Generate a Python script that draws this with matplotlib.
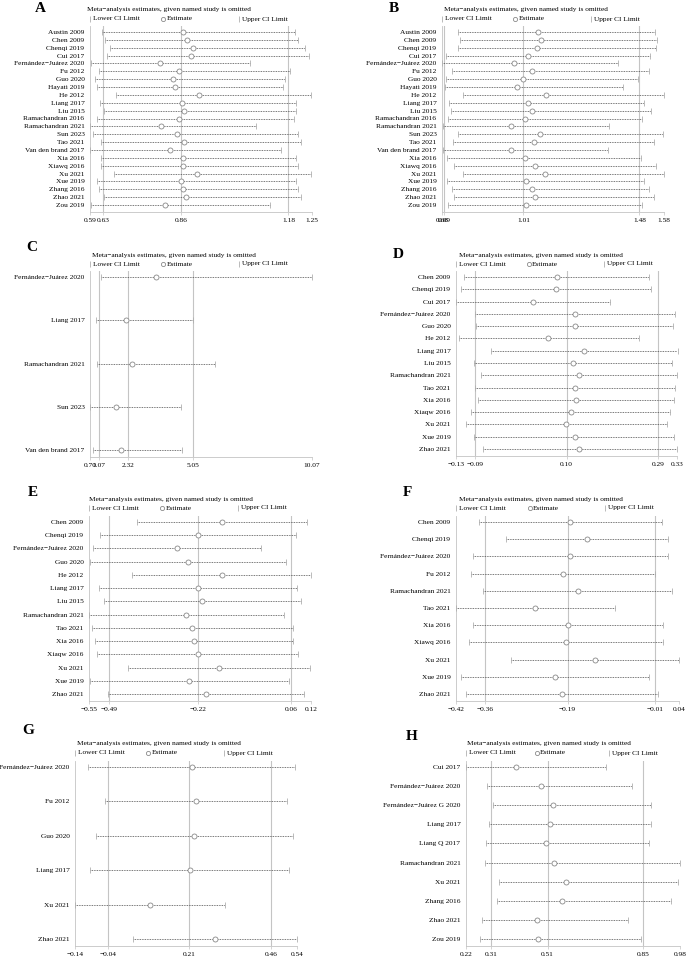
import numpy as np
import matplotlib
matplotlib.use('Agg')
import matplotlib.pyplot as plt

plt.rcParams['font.family'] = ['Liberation Serif', 'DejaVu Serif']

W, H = 689, 958

# ---- panel A ----
a_studies = ['Austin 2009', 'Chen 2009', 'Chenqi 2019', 'Cui 2017', 'Fernández−Juárez 2020',
             'Fu 2012', 'Guo 2020', 'Hayati 2019', 'He 2012', 'Liang 2017', 'Liu 2015',
             'Ramachandran 2016', 'Ramachandran 2021', 'Sun 2023', 'Tao 2021',
             'Van den brand 2017', 'Xia 2016', 'Xiawq 2016', 'Xu 2021', 'Xue 2019',
             'Zhang 2016', 'Zhao 2021', 'Zou 2019']
a_lower = [0.625, 0.636, 0.650, 0.641, 0.594, 0.616, 0.605, 0.610, 0.668, 0.619, 0.631,
           0.612, 0.591, 0.600, 0.622, 0.590, 0.622, 0.624, 0.660, 0.612, 0.618, 0.633, 0.592]
a_est = [0.865, 0.877, 0.895, 0.891, 0.798, 0.855, 0.838, 0.843, 0.914, 0.863, 0.869,
         0.855, 0.802, 0.849, 0.870, 0.828, 0.865, 0.867, 0.908, 0.860, 0.866, 0.874, 0.814]
a_upper = [1.198, 1.207, 1.228, 1.240, 1.067, 1.185, 1.169, 1.164, 1.248, 1.202, 1.202,
           1.195, 1.083, 1.207, 1.216, 1.159, 1.202, 1.207, 1.247, 1.202, 1.209, 1.218, 1.125]
a_ticks = [0.59, 0.63, 0.86, 1.18, 1.25]

# ---- panel B ----
b_studies = a_studies
b_lower = [0.745, 0.753, 0.745, 0.698, 0.681, 0.720, 0.695, 0.692, 0.766, 0.710, 0.716,
           0.704, 0.683, 0.745, 0.723, 0.684, 0.702, 0.729, 0.765, 0.699, 0.719, 0.729, 0.703]
b_est = [1.070, 1.081, 1.067, 1.028, 0.971, 1.044, 1.009, 0.986, 1.100, 1.027, 1.044,
         1.016, 0.959, 1.077, 1.052, 0.959, 1.017, 1.056, 1.097, 1.019, 1.044, 1.058, 1.020]
b_upper = [1.545, 1.553, 1.547, 1.523, 1.395, 1.520, 1.476, 1.414, 1.580, 1.499, 1.527,
           1.492, 1.359, 1.574, 1.538, 1.352, 1.487, 1.546, 1.580, 1.497, 1.520, 1.539, 1.492]
b_ticks = [0.68, 0.69, 1.01, 1.48, 1.58]

# ---- panel C ----
c_studies = ['Fernández−Juárez 2020', 'Liang 2017', 'Ramachandran 2021', 'Sun 2023',
             'Van den brand 2017']
c_lower = [1.15, 0.95, 0.98, 0.70, 0.84]
c_est = [3.47, 2.21, 2.48, 1.80, 2.00]
c_upper = [10.07, 5.03, 5.96, 4.52, 4.59]
c_ticks = [0.70, 1.07, 2.32, 5.05, 10.07]

# ---- panel D ----
d_studies = ['Chen 2009', 'Chenqi 2019', 'Cui 2017', 'Fernández−Juárez 2020', 'Guo 2020',
             'He 2012', 'Liang 2017', 'Liu 2015', 'Ramachandran 2021', 'Tao 2021',
             'Xia 2016', 'Xiaqw 2016', 'Xu 2021', 'Xue 2019', 'Zhao 2021']
d_lower = [-0.113, -0.120, -0.130, -0.090, -0.089, -0.124, -0.057, -0.092, -0.077, -0.090,
           -0.084, -0.098, -0.110, -0.093, -0.074]
d_est = [0.080, 0.078, 0.030, 0.118, 0.117, 0.062, 0.137, 0.114, 0.127, 0.118,
         0.119, 0.109, 0.098, 0.117, 0.127]
d_upper = [0.272, 0.275, 0.191, 0.325, 0.322, 0.251, 0.332, 0.320, 0.329, 0.325,
           0.323, 0.316, 0.309, 0.324, 0.330]
d_ticks = [-0.13, -0.09, 0.10, 0.29, 0.33]

# ---- panel E ----
e_studies = ['Chen 2009', 'Chenqi 2019', 'Fernández−Juárez 2020', 'Guo 2020', 'He 2012',
             'Liang 2017', 'Liu 2015', 'Ramachandran 2021', 'Tao 2021', 'Xia 2016',
             'Xiaqw 2016', 'Xu 2021', 'Xue 2019', 'Zhao 2021']
e_lower = [-0.404, -0.518, -0.537, -0.548, -0.419, -0.520, -0.505, -0.550, -0.540, -0.532,
           -0.525, -0.431, -0.547, -0.494]
e_est = [-0.148, -0.220, -0.283, -0.250, -0.150, -0.220, -0.208, -0.256, -0.238, -0.234,
         -0.220, -0.157, -0.247, -0.196]
e_upper = [0.108, 0.075, -0.031, 0.044, 0.120, 0.078, 0.090, 0.038, 0.065, 0.066,
           0.081, 0.118, 0.054, 0.099]
e_ticks = [-0.55, -0.49, -0.22, 0.06, 0.12]

# ---- panel F ----
f_studies = ['Chen 2009', 'Chenqi 2019', 'Fernández−Juárez 2020', 'Fu 2012',
             'Ramachandran 2021', 'Tao 2021', 'Xia 2016', 'Xiawq 2016', 'Xu 2021',
             'Xue 2019', 'Zhao 2021']
f_lower = [-0.372, -0.317, -0.384, -0.389, -0.365, -0.420, -0.384, -0.393, -0.307, -0.410, -0.399]
f_est = [-0.184, -0.149, -0.184, -0.200, -0.169, -0.257, -0.188, -0.193, -0.133, -0.215, -0.201]
f_upper = [0.004, 0.018, 0.017, -0.010, 0.025, -0.093, 0.008, 0.006, 0.040, -0.022, -0.003]
f_ticks = [-0.42, -0.36, -0.19, -0.01, 0.04]

# ---- panel G ----
g_studies = ['Fernández−Juárez 2020', 'Fu 2012', 'Guo 2020', 'Liang 2017', 'Xu 2021',
             'Zhao 2021']
g_lower = [-0.100, -0.049, -0.075, -0.094, -0.139, 0.038]
g_est = [0.218, 0.230, 0.226, 0.211, 0.089, 0.290]
g_upper = [0.534, 0.510, 0.527, 0.516, 0.319, 0.539]
g_ticks = [-0.14, -0.04, 0.21, 0.46, 0.54]

# ---- panel H ----
h_studies = ['Cui 2017', 'Fernández−Juárez 2020', 'Fernández−Juárez G 2020', 'Liang 2017',
             'Liang Q 2017', 'Ramachandran 2021', 'Xu 2021', 'Zhang 2016', 'Zhao 2021',
             'Zou 2019']
h_lower = [0.221, 0.294, 0.317, 0.301, 0.291, 0.288, 0.338, 0.329, 0.278, 0.268]
h_est = [0.396, 0.488, 0.530, 0.517, 0.504, 0.531, 0.575, 0.561, 0.473, 0.475]
h_upper = [0.718, 0.809, 0.877, 0.877, 0.870, 0.980, 0.972, 0.949, 0.797, 0.841]
h_ticks = [0.22, 0.31, 0.51, 0.85, 0.98]

TITLE = 'Meta−analysis estimates, given named study is omitted'
FS = 5.35
LINE_C = '#4a4a4a'
CAP_C = '#b0b0b0'
GRID_C = '#c4c4c4'


def fmt(v):
    s = '%.2f' % v
    return s.replace('-', '−')


def draw_panel(fig, letter, studies, lower, est, upper, ticks, box, letter_xy, title_xy, legend_y):
    x0, x1, row0, rowN = box
    n = len(studies)
    top = row0 - 6
    bottom = rowN + 7
    ax = fig.add_axes([x0 / W, 1 - bottom / H, (x1 - x0) / W, (bottom - top) / H])
    y = np.arange(n)
    step = (rowN - row0) / max(n - 1, 1)
    ax.set_ylim(n - 1 + 7 / step, -6 / step)
    ax.set_xlim(ticks[0], ticks[-1])

    for g in ticks[1:4]:
        ax.axvline(g, color=GRID_C, lw=0.8, zorder=0)

    ax.hlines(y, lower, upper, colors=LINE_C, lw=0.6, linestyles=(0, (1, 1)), zorder=2)
    ax.plot(lower, y, ls='none', marker='|', ms=4, mew=0.6, color=CAP_C, zorder=3, clip_on=False)
    ax.plot(upper, y, ls='none', marker='|', ms=4, mew=0.6, color=CAP_C, zorder=3, clip_on=False)
    ax.plot(est, y, ls='none', marker='o', ms=3.6, mfc='white', mec='#8a8a8a', mew=0.6,
            zorder=4, clip_on=False)

    ax.set_yticks(y)
    ax.set_yticklabels(studies, fontsize=FS)
    ax.set_xticks(ticks)
    ax.set_xticklabels([fmt(t) for t in ticks], fontsize=FS)
    ax.tick_params(axis='y', length=0, pad=4)
    ax.tick_params(axis='x', length=2, width=0.5, color=GRID_C, pad=2)
    for s in ['top', 'right']:
        ax.spines[s].set_visible(False)
    for s in ['left', 'bottom']:
        ax.spines[s].set_color(GRID_C)
        ax.spines[s].set_linewidth(0.6)

    fig.text(letter_xy[0] / W, 1 - letter_xy[1] / H, letter, fontsize=11, fontweight='bold',
             ha='center', va='center')
    fig.text(title_xy[0] / W, 1 - title_xy[1] / H, TITLE, fontsize=FS, ha='left', va='center')

    ly = 1 - legend_y / H
    items = [(0.0, '|', 'Lower CI Limit'), (0.33, 'o', 'Estimate'), (0.67, '|', 'Upper CI Limit')]
    for frac, mk, lab in items:
        lx = (x0 + frac * (x1 - x0)) / W
        if mk == '|':
            fig.lines.append(plt.Line2D([lx], [ly], marker='|', ms=4, mew=0.6, color=CAP_C,
                                        transform=fig.transFigure))
        else:
            fig.lines.append(plt.Line2D([lx], [ly], marker='o', ms=3, mfc='white', mec='#8a8a8a',
                                        mew=0.6, transform=fig.transFigure))
        fig.text(lx + 3 / W, ly, lab, fontsize=FS, ha='left', va='center')
    return ax


fig = plt.figure(figsize=(W / 100, H / 100), dpi=100)
fig.patch.set_facecolor('white')

draw_panel(fig, 'A', a_studies, a_lower, a_est, a_upper, a_ticks,
           (90, 312, 32, 205), (40, 9), (87, 10), 19)
draw_panel(fig, 'B', b_studies, b_lower, b_est, b_upper, b_ticks,
           (442, 664, 32, 205), (394, 9), (444, 10), 19)
draw_panel(fig, 'C', c_studies, c_lower, c_est, c_upper, c_ticks,
           (90, 312, 277, 450), (32, 248), (92, 255), 264)
draw_panel(fig, 'D', d_studies, d_lower, d_est, d_upper, d_ticks,
           (456, 677, 277, 449), (398, 255), (459, 255), 264)
draw_panel(fig, 'E', e_studies, e_lower, e_est, e_upper, e_ticks,
           (89, 311, 522, 694), (33, 493), (89, 499), 508)
draw_panel(fig, 'F', f_studies, f_lower, f_est, f_upper, f_ticks,
           (456, 679, 522, 694), (407, 493), (459, 499), 508)
draw_panel(fig, 'G', g_studies, g_lower, g_est, g_upper, g_ticks,
           (75, 297, 767, 939), (28, 731), (77, 744), 753)
draw_panel(fig, 'H', h_studies, h_lower, h_est, h_upper, h_ticks,
           (466, 680, 767, 939), (412, 736), (467, 744), 753)

fig.savefig('out.png', dpi=100)
